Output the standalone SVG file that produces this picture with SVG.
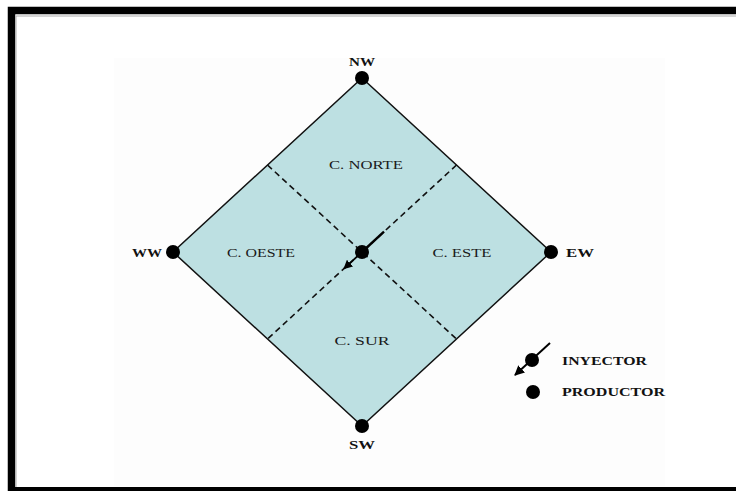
<svg xmlns="http://www.w3.org/2000/svg" width="736" height="491" viewBox="0 0 736 491">
<style>
.lbl{font-family:"Liberation Serif","Times New Roman",serif;font-weight:bold;font-size:13px;fill:#111}
.reg{font-family:"Liberation Serif","Times New Roman",serif;font-size:13px;fill:#1a1a1a}
.dot{fill:#000}
.dash{stroke:#111;stroke-width:1.6;stroke-dasharray:6,4;fill:none}
</style>
<defs>
<marker id="ah" viewBox="0 0 10 10" refX="9" refY="5" markerWidth="5" markerHeight="5" orient="auto">
<path d="M0,0 L10,5 L0,10 z" fill="#000"/>
</marker>
</defs>
<rect x="0" y="0" width="736" height="491" fill="#fff"/>
<rect x="114" y="58" width="551" height="428" fill="#fdfdfd"/>
<!-- frame -->
<path d="M11.5,491 V10.5 H736" fill="none" stroke="#000" stroke-width="7.5"/>
<path d="M16,491 V16 H736" fill="none" stroke="#aaa" stroke-width="1"/>
<rect x="15" y="487" width="721" height="4" fill="#000"/>
<g id="field">
<polygon points="362,78 551,252 362,426 173,252" fill="#bde0e2" stroke="#111" stroke-width="1.5"/>
</g>
<g id="connectors">
<line class="dash" x1="267.5" y1="165" x2="456.5" y2="339"/>
<line class="dash" x1="456.5" y1="165" x2="267.5" y2="339"/>
<line x1="362" y1="252" x2="384" y2="231.7" stroke="#000" stroke-width="2.4"/>
<line x1="362" y1="252" x2="344" y2="268.6" stroke="#000" stroke-width="1.8" marker-end="url(#ah)"/>
</g>
<g id="c-norte"><text class="reg" x="366" y="169" text-anchor="middle" textLength="74" lengthAdjust="spacingAndGlyphs">C. NORTE</text></g>
<g id="c-oeste"><text class="reg" x="261" y="257" text-anchor="middle" textLength="68" lengthAdjust="spacingAndGlyphs">C. OESTE</text></g>
<g id="c-este"><text class="reg" x="462" y="257" text-anchor="middle" textLength="59" lengthAdjust="spacingAndGlyphs">C. ESTE</text></g>
<g id="c-sur"><text class="reg" x="362" y="345" text-anchor="middle" textLength="55" lengthAdjust="spacingAndGlyphs">C. SUR</text></g>
<g id="nw"><circle class="dot" cx="362" cy="78" r="7"/><text class="lbl" x="362" y="66" text-anchor="middle" textLength="26" lengthAdjust="spacingAndGlyphs">NW</text></g>
<g id="ww"><circle class="dot" cx="173" cy="252" r="7"/><text class="lbl" x="132" y="257" textLength="30" lengthAdjust="spacingAndGlyphs">WW</text></g>
<g id="ew"><circle class="dot" cx="551" cy="252" r="7"/><text class="lbl" x="566" y="257" textLength="28" lengthAdjust="spacingAndGlyphs">EW</text></g>
<g id="sw"><circle class="dot" cx="362" cy="426" r="7"/><text class="lbl" x="362" y="449" text-anchor="middle" textLength="26" lengthAdjust="spacingAndGlyphs">SW</text></g>
<g id="center"><circle class="dot" cx="362" cy="252" r="7"/></g>
<g id="legend-injector">
<line x1="550" y1="343" x2="515" y2="375" stroke="#000" stroke-width="2" marker-end="url(#ah)"/>
<circle class="dot" cx="532" cy="360" r="7"/>
<text class="lbl" x="562" y="365" textLength="85" lengthAdjust="spacingAndGlyphs">INYECTOR</text>
</g>
<g id="legend-producer">
<circle class="dot" cx="533" cy="392" r="7"/>
<text class="lbl" x="562" y="396" textLength="103" lengthAdjust="spacingAndGlyphs">PRODUCTOR</text>
</g>
</svg>
